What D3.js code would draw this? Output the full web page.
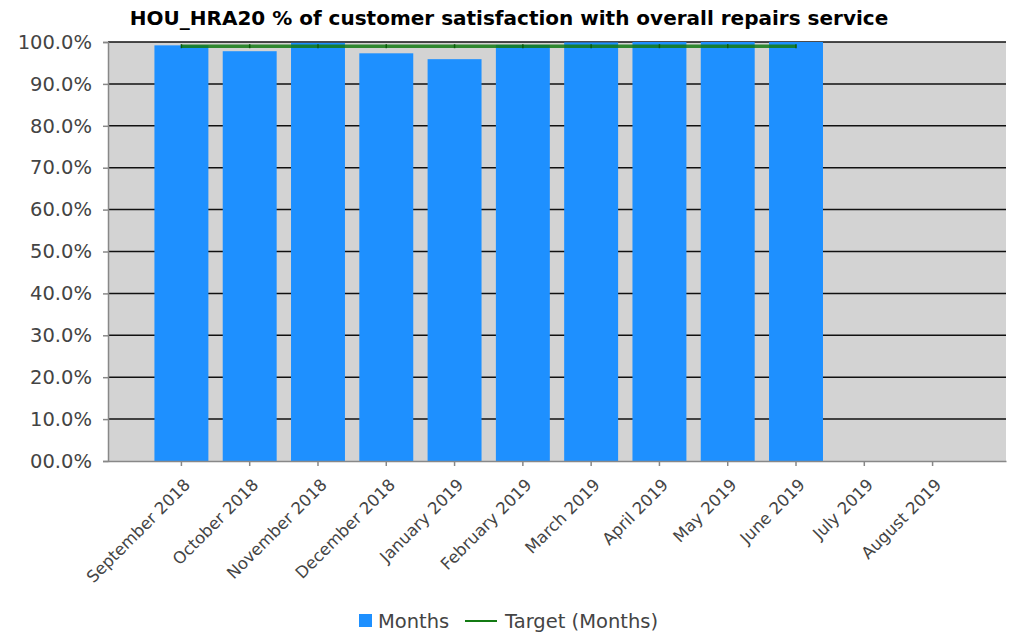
<!DOCTYPE html>
<html>
<head>
<meta charset="utf-8">
<script src="https://cdn.jsdelivr.net/npm/d3@7"></script>
<style>
  html, body { margin: 0; padding: 0; background: #fff; }
  svg { display: block; }
  text { font-family: "DejaVu Sans", Verdana, sans-serif; }
</style>
</head>
<body>
<svg id="chart" width="1010" height="638"></svg>
<script>
// Monthly categories and values (percent)
const months = ["September 2018", "October 2018", "November 2018", "December 2018",
  "January 2019", "February 2019", "March 2019", "April 2019", "May 2019",
  "June 2019", "July 2019", "August 2019"];
const satisfaction = [99.2, 97.8, 99.8, 97.3, 95.9, 99.3, 99.9, 100, 100, 100, null, null];
const target = [99, 99, 99, 99, 99, 99, 99, 99, 99, 99, null, null];
const yTicks = [0, 10, 20, 30, 40, 50, 60, 70, 80, 90, 100];
const titleText = "HOU_HRA20 % of customer satisfaction with overall repairs service";
const legendLabels = ["Months", "Target (Months)"];

const svg = d3.select("#chart");
const margin = { left: 108, right: 4, top: 42, bottom: 177 };
const W = 1010, H = 638;
const iw = W - margin.left - margin.right;
const ih = H - margin.top - margin.bottom;

const x = d3.scaleBand().domain(months).range([0, iw]).paddingInner(0.21).paddingOuter(0.68);
const y = d3.scaleLinear().domain([0, 100]).range([ih, 0]);

// Title
svg.append("text")
  .attr("x", 509).attr("y", 25)
  .attr("text-anchor", "middle")
  .attr("font-weight", "bold")
  .attr("font-size", 20)
  .attr("fill", "#000")
  .text(titleText);

const g = svg.append("g").attr("transform", `translate(${margin.left},${margin.top})`);

// Plot background
g.append("rect").attr("width", iw).attr("height", ih).attr("fill", "#d3d3d3");

// Horizontal grid lines
g.selectAll("line.grid").data(yTicks.filter(d => d > 0)).join("line")
  .attr("class", "grid")
  .attr("x1", 0).attr("x2", iw)
  .attr("y1", d => y(d)).attr("y2", d => y(d))
  .attr("stroke", "#111").attr("stroke-width", 1.5);

// Bars
g.selectAll("rect.bar").data(months.map((m, i) => ({ m, v: satisfaction[i] })).filter(d => d.v != null))
  .join("rect")
  .attr("class", "bar")
  .attr("x", d => x(d.m))
  .attr("width", x.bandwidth())
  .attr("y", d => y(d.v))
  .attr("height", d => ih - y(d.v))
  .attr("fill", "#1e90ff");

// Target line
const tData = months.map((m, i) => ({ m, v: target[i] })).filter(d => d.v != null);
g.append("path")
  .datum(tData)
  .attr("fill", "none")
  .attr("stroke", "#137a13")
  .attr("stroke-opacity", 0.85)
  .attr("stroke-width", 3.5)
  .attr("d", d3.line().x(d => x(d.m) + x.bandwidth() / 2).y(d => y(d.v)));

g.selectAll("line.tmark").data(tData).join("line")
  .attr("class", "tmark")
  .attr("x1", d => x(d.m) + x.bandwidth() / 2).attr("x2", d => x(d.m) + x.bandwidth() / 2)
  .attr("y1", d => y(d.v) - 2).attr("y2", d => y(d.v) + 2)
  .attr("stroke", "#0b5a0b").attr("stroke-width", 1.5);

// Y axis
const yAxis = g.append("g")
  .call(d3.axisLeft(y).tickValues(yTicks).tickSize(5).tickPadding(11)
    .tickFormat(d => (d < 10 ? "0" : "") + d3.format(".1f")(d) + "%"));
yAxis.select(".domain").attr("stroke", "#888").attr("stroke-width", 1.5);
yAxis.selectAll(".tick line").attr("stroke", "#888").attr("stroke-width", 1.5);
yAxis.selectAll("text").attr("font-size", 19.5).attr("fill", "#444")
  .attr("font-family", "DejaVu Sans, sans-serif");

// X axis
const xAxis = g.append("g").attr("transform", `translate(0,${ih})`)
  .call(d3.axisBottom(x).tickSize(5).tickSizeOuter(0).tickPadding(6));
xAxis.select(".domain").attr("stroke", "#888").attr("stroke-width", 1.5);
xAxis.selectAll(".tick line").attr("stroke", "#888").attr("stroke-width", 1.5);
xAxis.selectAll("text")
  .attr("font-size", 16.5).attr("fill", "#444")
  .attr("font-family", "DejaVu Sans, sans-serif")
  .attr("text-anchor", "end")
  .attr("dy", "0.35em")
  .attr("transform", "translate(-2,13) rotate(-45)");

// Legend
const lg = svg.append("g").attr("transform", "translate(0,621)");
lg.append("rect").attr("x", 359).attr("y", -7).attr("width", 13).attr("height", 13).attr("fill", "#1e90ff");
lg.append("text").attr("x", 378).attr("y", 0).attr("dy", "0.35em")
  .attr("font-size", 19.5).attr("fill", "#444").text(legendLabels[0]);
lg.append("line").attr("x1", 465).attr("x2", 497).attr("y1", 0).attr("y2", 0)
  .attr("stroke", "#137a13").attr("stroke-width", 2);
lg.append("text").attr("x", 505).attr("y", 0).attr("dy", "0.35em")
  .attr("font-size", 19.5).attr("fill", "#444").text(legendLabels[1]);
</script>
</body>
</html>
